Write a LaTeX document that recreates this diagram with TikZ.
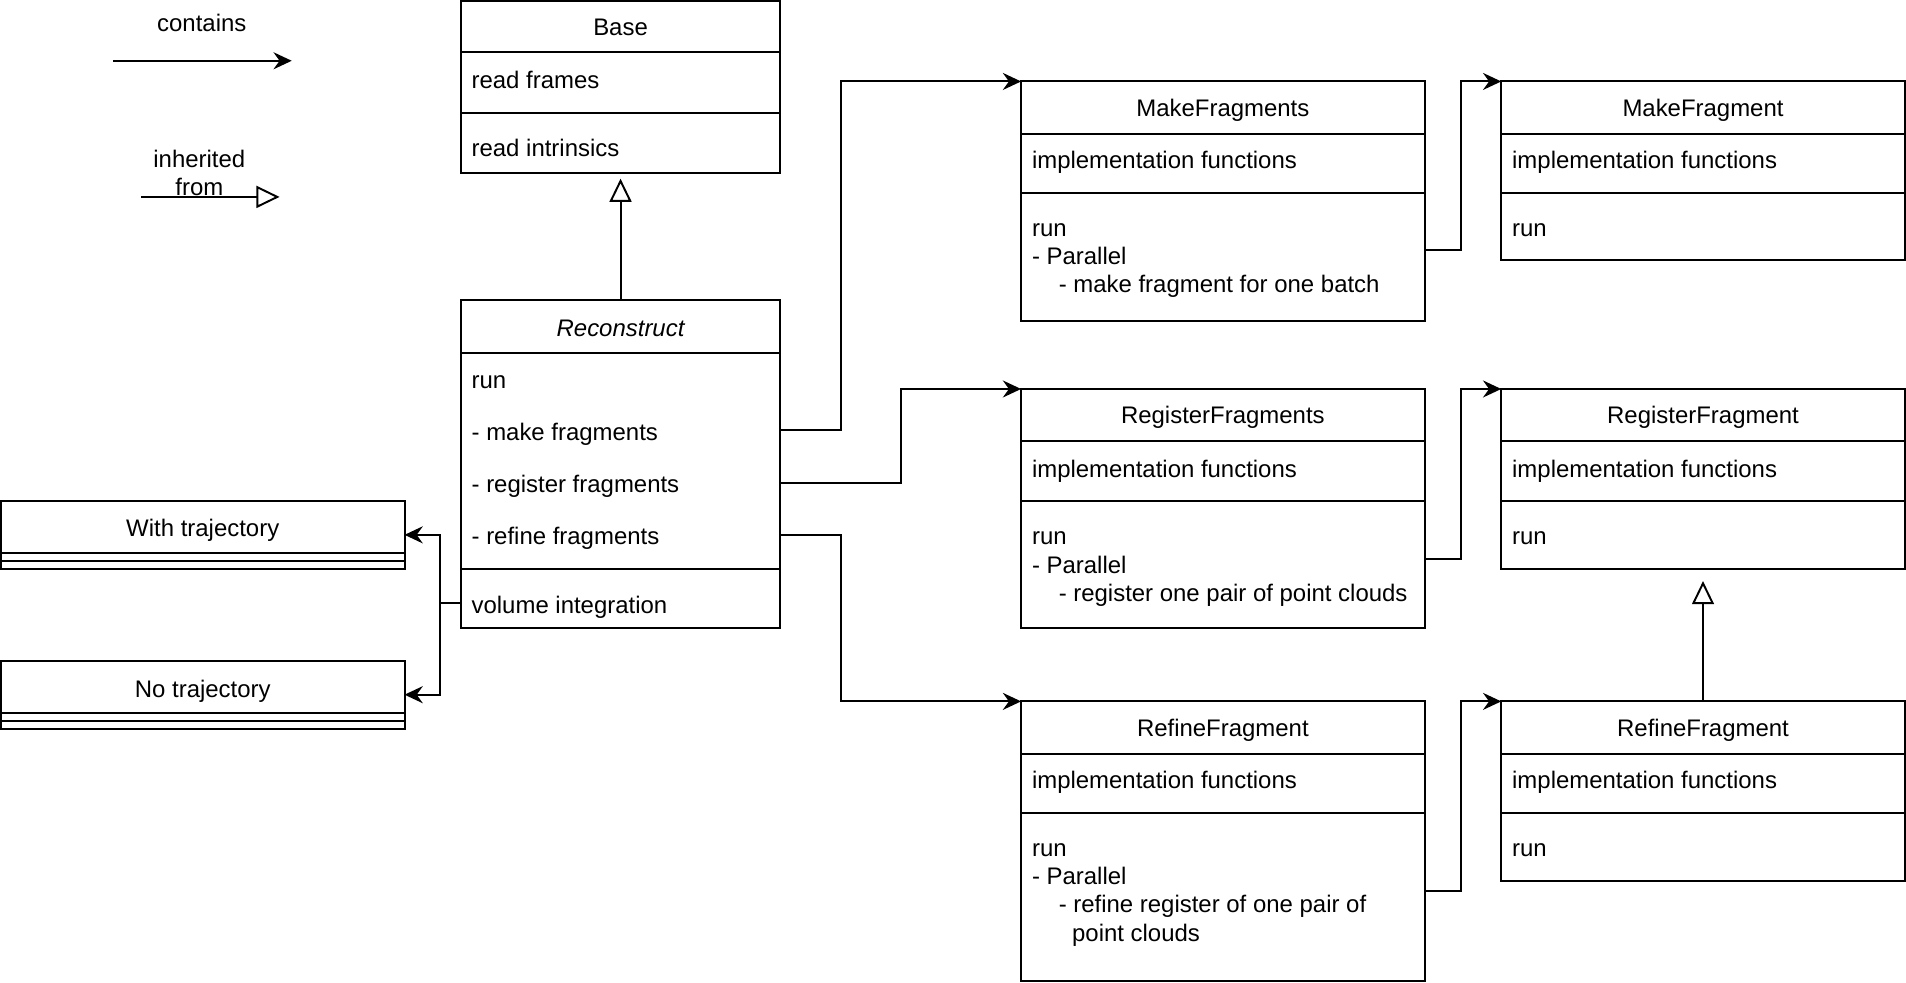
\documentclass[tikz,border=0pt]{standalone}
\usepackage{fontspec}
\setmainfont{Liberation Sans}
\usetikzlibrary{arrows.meta,calc}
\newcommand\umlbox[5]{\node[box, minimum width=#4pt, minimum height=#5pt] (#1) at (#2,#3) {};}
\newcommand\hsep[2]{\draw (#1.west |- 0,#2) -- (#1.east |- 0,#2);}
\begin{document}
\begin{tikzpicture}[x=1pt,y=-1pt,line width=1.6pt,
  every node/.style={font=\fontsize{19.7}{23.3}\selectfont, inner sep=0pt, outer sep=0pt, text height=19.2pt, text depth=4.1pt},
  box/.style={draw, rectangle, anchor=north west, fill=white},
  lbl/.style={anchor=west},
  ttl/.style={anchor=center},
  contains/.style={-{Stealth[length=15pt,width=14pt,inset=5pt]}},
  inherit/.style={-{Triangle[open,length=19pt,width=18pt,fill=white]}}]
\useasboundingbox (0,0) rectangle (1568,808);

% legend
\node[ttl] (lgc) at (166,18) {contains};
\coordinate (lca) at (93,50);
\coordinate (lcb) at (240,50);
\draw[contains] (lca) -- (lcb);
\node[ttl] (lgi1) at (164,130) {inherited};
\node[ttl] (lgi2) at (164,153) {from};
\coordinate (lia) at (116,162);
\coordinate (lib) at (230,162);
\draw[inherit] (lia) -- (lib);

% Base
\umlbox{base}{379}{1}{263}{141}
\hsep{base}{43}\hsep{base}{93}
\node[ttl] (base-t) at (510.5,22) {Base};
\node[lbl] (base-r1) at (388,65) {read frames};
\node[lbl] (base-r2) at (388,121) {read intrinsics};

% Reconstruct
\umlbox{rec}{379}{247}{263}{270}
\hsep{rec}{290.5}\hsep{rec}{468}
\node[ttl] (rec-t) at (510.5,269) {\itshape Reconstruct};
\node[lbl] (rec-r1) at (388,312) {run};
\node[lbl] (rec-mf) at (388,355) {- make fragments};
\node[lbl] (rec-rg) at (388,398) {- register fragments};
\node[lbl] (rec-rf) at (388,440) {- refine fragments};
\node[lbl] (rec-vi) at (388,497) {volume integration};

% With / No trajectory
\umlbox{wt}{0.8}{412}{332}{56}
\hsep{wt}{455}\hsep{wt}{461.5}
\node[ttl] (wt-t) at (166.8,434) {With trajectory};
\umlbox{nt}{0.8}{543.5}{332}{56}
\hsep{nt}{586.5}\hsep{nt}{593}
\node[ttl] (nt-t) at (166.8,566) {No trajectory};

% MakeFragments
\umlbox{mf}{840}{67}{332}{197}
\hsep{mf}{110}\hsep{mf}{159}
\node[ttl] (mf-t) at (1006,88) {MakeFragments};
\node[lbl] (mf-r1) at (849,131) {implementation functions};
\node[lbl] (mf-r2) at (849,187) {run};
\node[lbl] (mf-r3) at (849,210) {- Parallel};
\node[lbl] (mf-r4) at (871,233) {- make fragment for one batch};

% MakeFragment
\umlbox{mfo}{1235}{67}{332}{147}
\hsep{mfo}{110}\hsep{mfo}{159}
\node[ttl] (mfo-t) at (1401,88) {MakeFragment};
\node[lbl] (mfo-r1) at (1244,131) {implementation functions};
\node[lbl] (mfo-r2) at (1244,187) {run};

% RegisterFragments
\umlbox{rg}{840}{320}{332}{197}
\hsep{rg}{363}\hsep{rg}{412}
\node[ttl] (rg-t) at (1006,341) {RegisterFragments};
\node[lbl] (rg-r1) at (849,385) {implementation functions};
\node[lbl] (rg-r2) at (849,440) {run};
\node[lbl] (rg-r3) at (849,464) {- Parallel};
\node[lbl] (rg-r4) at (871,487) {- register one pair of point clouds};

% RegisterFragment
\umlbox{rgo}{1235}{320}{332}{148}
\hsep{rgo}{363}\hsep{rgo}{412}
\node[ttl] (rgo-t) at (1401,341) {RegisterFragment};
\node[lbl] (rgo-r1) at (1244,385) {implementation functions};
\node[lbl] (rgo-r2) at (1244,440) {run};

% RefineFragment (left)
\umlbox{rf}{840}{577}{332}{230}
\hsep{rf}{620}\hsep{rf}{669}
\node[ttl] (rf-t) at (1006,598) {RefineFragment};
\node[lbl] (rf-r1) at (849,641) {implementation functions};
\node[lbl] (rf-r2) at (849,697) {run};
\node[lbl] (rf-r3) at (849,720) {- Parallel};
\node[lbl] (rf-r4) at (871,743) {- refine register of one pair of};
\node[lbl] (rf-r5) at (882,767) {point clouds};

% RefineFragment (right)
\umlbox{rfo}{1235}{577}{332}{148}
\hsep{rfo}{620}\hsep{rfo}{669}
\node[ttl] (rfo-t) at (1401,598) {RefineFragment};
\node[lbl] (rfo-r1) at (1244,641) {implementation functions};
\node[lbl] (rfo-r2) at (1244,697) {run};

% inheritance
\draw[inherit, shorten >=5pt] (rec.north) -- (base.south);
\draw[inherit, shorten >=10pt] (rfo.north) -- (rgo.south);

% contains connectors
\draw[contains] (rec.east |- 0,354) -- ++(50,0) |- (mf.north west);
\draw[contains] (rec.east |- 0,397) -- ++(99,0) |- (rg.north west);
\draw[contains] (rec.east |- 0,440) -- ++(50,0) |- (rf.north west);
\draw[contains] (mf.east |- 0,206) -- ++(30,0) |- (mfo.north west);
\draw[contains] (rg.east |- 0,460) -- ++(30,0) |- (rgo.north west);
\draw[contains] (rf.east |- 0,733) -- ++(30,0) |- (rfo.north west);
\draw[contains] (rec.west |- 0,496) -- ++(-17,0) |- (wt.east);
\draw[contains] (rec.west |- 0,496) -- ++(-17,0) |- (nt.east);
\end{tikzpicture}
\end{document}
